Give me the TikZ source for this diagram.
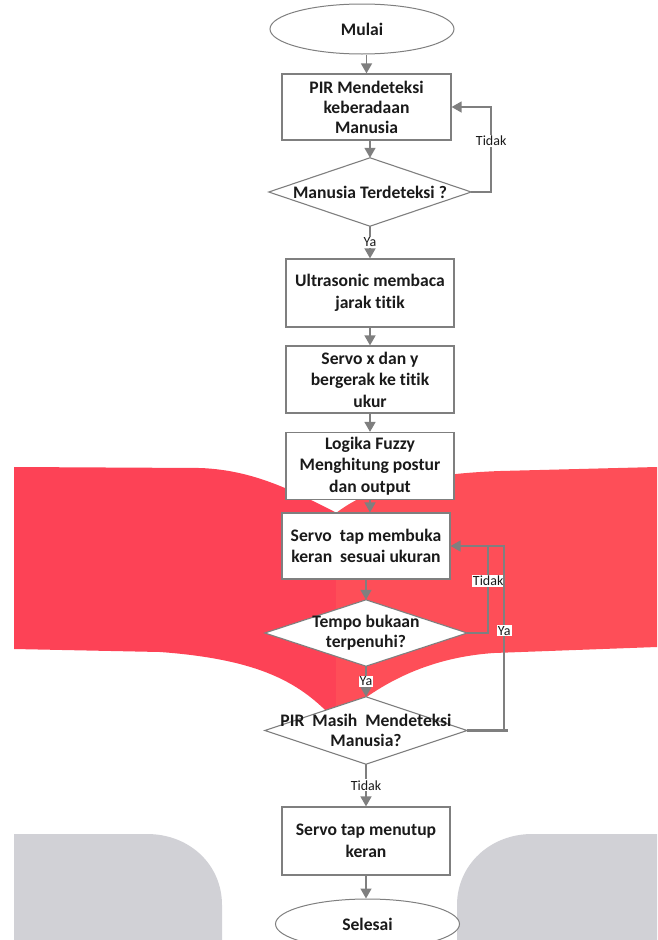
\documentclass[tikz,border=0pt]{standalone}
\usepackage{fontspec}
\setmainfont{Carlito}[Ligatures=NoCommon]
\usetikzlibrary{shapes.geometric,arrows.meta}
\pgfdeclarelayer{bg}
\pgfdeclarelayer{mid}
\pgfsetlayers{bg,mid,main}
\definecolor{lnc}{HTML}{7F7F7F}
\definecolor{redL}{HTML}{FD4256}
\definecolor{redR}{HTML}{FE4E58}
\definecolor{wm}{HTML}{D1D1D6}
\definecolor{txt}{HTML}{1A1A1A}
\begin{document}
\begin{tikzpicture}[x=1pt,y=-1pt,
  box/.style={draw=lnc, line width=1.2pt, fill=white, minimum width=168pt, minimum height=67pt, inner sep=0pt, align=center, font=\fontsize{17.6}{21.5}\selectfont\bfseries, text=txt},
  term/.style={ellipse, draw=lnc, line width=1pt, fill=white, minimum width=184pt, minimum height=50pt, inner sep=0pt, font=\fontsize{17.6}{21.5}\selectfont\bfseries, text=txt},
  dec/.style={minimum width=202pt, minimum height=67pt, inner sep=0pt, align=center, font=\fontsize{17.6}{20}\selectfont\bfseries, text=txt},
  dshape/.style={draw=lnc, line width=1.1pt, fill=white},
  flow/.style={draw=lnc, line width=1.5pt, -{Triangle[length=10pt,width=11pt]}},
  link/.style={draw=lnc, line width=1.5pt},
  lbl/.style={fill=white, inner sep=1pt, font=\fontsize{14}{15}\selectfont, text=txt}
]
\useasboundingbox (0,0) rectangle (657,940);
\begin{pgfonlayer}{bg}
\fill[redL] (14,467) -- (200,468) .. controls (255,470) and (295,492) .. (337,513) -- (337,722) .. controls (305,688) and (270,660) .. (160,652) -- (14,649) -- cycle;
\fill[redR] (336,513) .. controls (370,487) and (420,474) .. (500,471) -- (657,467) -- (657,647) -- (494,653) .. controls (420,658) and (370,690) .. (336,722) -- cycle;
\fill[wm] (14,940) -- (14,834) -- (147,834) .. controls (190,834) and (222,865) .. (222,905) -- (222,940) -- cycle;
\fill[wm] (457,940) -- (457,905) .. controls (457,865) and (490,834) .. (532,834) -- (657,834) -- (657,940) -- cycle;
\end{pgfonlayer}

\node[term] (start) at (362,29) {Mulai};
\node[box, minimum width=169pt, minimum height=66pt, font=\fontsize{17.6}{20}\selectfont\bfseries] (pir) at (366.5,107) {PIR Mendeteksi\\keberadaan\\Manusia};
\node[dec, minimum height=68pt] (d1) at (370,192) {Manusia Terdeteksi ?};
\node[box, minimum height=68pt] (ultra) at (370,293) {Ultrasonic membaca\\jarak titik};
\node[box] (servoxy) at (370,379.5) {Servo x dan y\\bergerak ke titik\\ukur};
\node[box] (fuzzy) at (370,466) {Logika Fuzzy\\Menghitung postur\\dan output};
\node[box, minimum height=66pt] (tapopen) at (366,546) {Servo\ \ tap membuka\\keran\ \ sesuai ukuran};
\node[dec, minimum height=66pt] (d2) at (366,633) {Tempo bukaan\\terpenuhi?};
\node[dec] (d3) at (366,730.5) {PIR\ \ Masih\ \ Mendeteksi\\Manusia?};
\node[box, minimum height=68pt] (tapclose) at (366,841) {Servo tap menutup\\keran};
\node[term] (stop) at (367.5,924) {Selesai};

\begin{pgfonlayer}{mid}
\foreach \d in {d1,d2,d3} {\draw[dshape] (\d.north) -- (\d.east) -- (\d.south) -- (\d.west) -- cycle;}
\end{pgfonlayer}

\draw[flow] (pir.north |- start.south) -- (pir.north);
\draw[flow] (pir.south -| d1.north) -- (d1.north);
\draw[flow] (d1.south) -- node[lbl]{Ya} (ultra.north);
\draw[flow] (ultra.south) -- (servoxy.north);
\draw[flow] (servoxy.south) -- (fuzzy.north);
\draw[flow] (fuzzy.south) -- (fuzzy.south |- tapopen.north);
\draw[flow] (tapopen.south) -- (d2.north);
\draw[flow] (d2.south) -- node[lbl]{Ya} (d3.north);
\draw[flow] (d3.south) -- node[lbl]{Tidak} (tapclose.north);
\draw[flow] (tapclose.south) -- (tapclose.south |- stop.north);

\draw[flow] (d1.east) -- ++(20,0) |- node[lbl,pos=0.3]{Tidak} (pir.east);
\draw[flow] (d2.east) -- ++(21,0) coordinate (t1) |- node[lbl,pos=0.3]{Tidak} (tapopen.east);
\draw[lnc, line width=3pt] (d3.east) -- ++(41,0);
\draw[link] (d3.east) -- ++(37,0) |- node[lbl,pos=0.27]{Ya} (t1 |- tapopen.east);
\end{tikzpicture}
\end{document}
